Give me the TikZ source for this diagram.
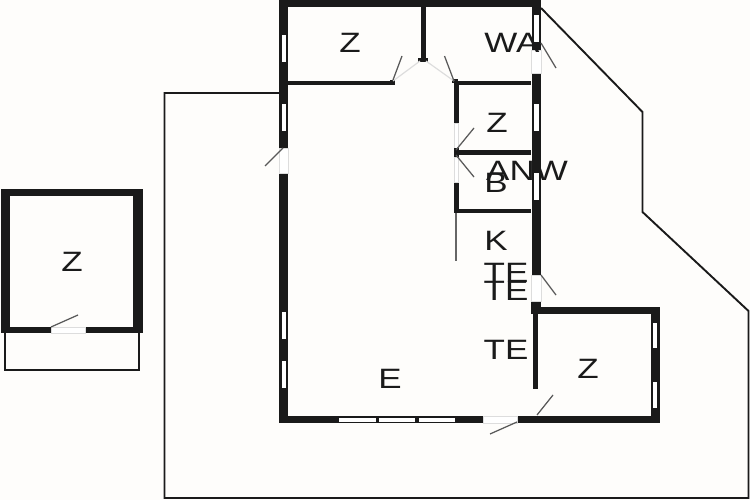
\documentclass[tikz,border=0pt]{standalone}
\usepackage{fontspec}
\setmainfont{Liberation Sans}
\definecolor{wallc}{HTML}{1A1A1A}
\definecolor{paper}{HTML}{FEFDFB}
\definecolor{lightc}{HTML}{DDDDDD}
\tikzset{
  wall/.style={fill=wallc,draw=none},
  win/.style={fill=white,draw=none},
  gapc/.style={fill=white,draw=lightc,line width=0.5pt},
  outline/.style={draw=wallc,line width=1.9pt,line join=miter},
  leaf/.style={draw=black!65,line width=1.25pt},
  thin door/.style={draw=lightc,line width=1.2pt},
  lbl/.style={font=\fontsize{28}{28}\selectfont,text=wallc,inner sep=0pt,xscale=1.25,transform shape}
}
\begin{document}
\begin{tikzpicture}[x=1pt,y=-1pt]
\fill[paper] (0,0) rectangle (750,500);
\useasboundingbox (0,0) rectangle (750,500);
% outline
\coordinate (o1) at (279,93); \coordinate (o2) at (164.5,93); \coordinate (o3) at (164.5,498);
\coordinate (o4) at (748.5,498); \coordinate (o5) at (748.5,311); \coordinate (o6) at (642.5,212);
\coordinate (o7) at (642.5,112); \coordinate (o8) at (541,8);
\draw[outline] (o1) -- (o2) -- (o3) -- (o4) -- (o5) -- (o6) -- (o7) -- (o8);
% main walls
\fill[wall] (279,0) rectangle (541,7);
\fill[wall] (279,0) rectangle (288,423);
\fill[wall] (279,416) rectangle (483,423);
\fill[wall] (517,416) rectangle (660,423);
\fill[wall] (531.5,7) rectangle (541,50);
\fill[wall] (531.5,73) rectangle (541,275);
\fill[wall] (531,301) rectangle (541,314);
\fill[wall] (531,307) rectangle (660,314);
\fill[wall] (651,307) rectangle (660,423);
\fill[wall] (533,314) rectangle (538,389);
% partitions
\fill[wall] (420.5,7) rectangle (425.5,60);
\fill[wall] (288,81) rectangle (392,85);
\fill[wall] (454,81) rectangle (531,85);
\fill[wall] (454,81) rectangle (459,123);
\fill[wall] (454,150) rectangle (531,155);
\fill[wall] (454,182) rectangle (459,213);
\fill[wall] (454,209) rectangle (531,213);
\draw[draw=black!60,line width=1.25pt] (456,213) -- (456,261);
\fill[wall] (418,58) rectangle (428,62);
\fill[wall] (390,80) rectangle (395,85);
\fill[wall] (452,79) rectangle (458,83);
% windows left
\fill[win] (281.5,35) rectangle (286,62);
\fill[win] (281.5,104) rectangle (286,131);
\fill[win] (281.5,312) rectangle (286,339);
\fill[win] (281.5,361) rectangle (286,388);
\filldraw[gapc] (279,148) rectangle (288,173);
% windows right
\fill[win] (533.5,15) rectangle (539,42);
\filldraw[gapc] (531.5,50) rectangle (541,73);
\fill[win] (533.5,104) rectangle (539,131);
\fill[win] (533.5,173) rectangle (539,200);
\filldraw[gapc] (531.5,275) rectangle (541,301);
\fill[win] (653,323) rectangle (657,348);
\fill[win] (653,382) rectangle (657,408);
% windows bottom
\fill[win] (339,417.5) rectangle (375.5,421.5);
\fill[win] (378.5,417.5) rectangle (415,421.5);
\fill[win] (418.5,417.5) rectangle (455,421.5);
\filldraw[gapc] (483,416) rectangle (517,423);
% door openings
\draw[thin door] (393,81) -- (420,61);
\draw[thin door] (426,61) -- (454,81);
\filldraw[gapc] (454.5,123) rectangle (458.5,148);
\filldraw[gapc] (454.5,157) rectangle (458.5,182);
\fill[wall] (454,148) rectangle (459,157);
% door leaves
\coordinate (d1a) at (393,80); \coordinate (d1b) at (402,56);
\coordinate (d2a) at (454,81); \coordinate (d2b) at (444.5,56);
\draw[leaf] (d1a) -- (d1b);
\draw[leaf] (d2a) -- (d2b);
\draw[leaf] (456,150) -- (474,128);
\draw[leaf] (456,155) -- (474,177);
\draw[leaf] (541,43) -- (556,68);
\draw[leaf] (541,275) -- (556,295);
\draw[leaf] (537,415) -- (553,395);
\draw[leaf] (517,422) -- (490,434);
\draw[leaf] (283,148) -- (265,166);
% shed
\draw[outline] (5,333) -- (5,370) -- (139,370) -- (139,333);
\fill[wall] (1,189) rectangle (143,196);
\fill[wall] (1,189) rectangle (10,333);
\fill[wall] (133,189) rectangle (143,333);
\fill[wall] (1,327) rectangle (51,333);
\fill[wall] (85,327) rectangle (143,333);
\filldraw[gapc] (51,327) rectangle (85,333);
\draw[leaf] (51,327) -- (78,315);
% labels
\node[lbl] (zb) at (350,43) {Z};
\node[lbl] (wa) at (512,43) {WA};
\node[lbl] (zc) at (497,123) {Z};
\node[lbl] (anw) at (527,171) {ANW};
\node[lbl] (b) at (496,183) {B};
\node[lbl] (k) at (496,241) {K};
\node[lbl] (te1) at (506,273) {TE};
\node[lbl] (te2) at (506,291) {TE};
\node[lbl] (te3) at (506,350) {TE};
\node[lbl] (zd) at (588,369) {Z};
\node[lbl] (e) at (390,379) {E};
\node[lbl] (za) at (72,262) {Z};
\end{tikzpicture}
\end{document}
